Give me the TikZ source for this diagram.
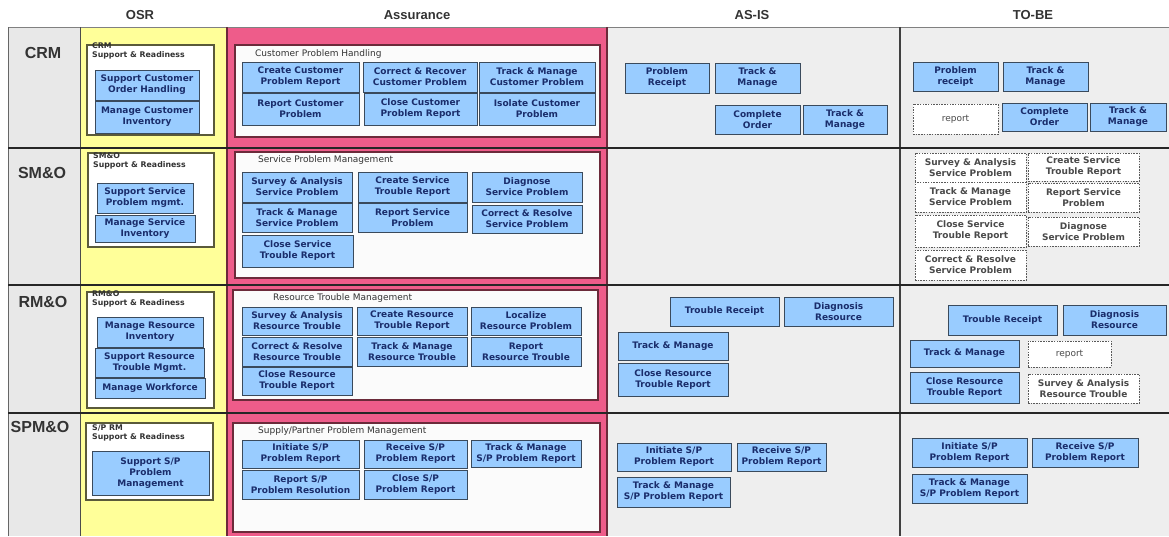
\documentclass[tikz,border=0pt]{standalone}
\usepackage{fontspec}
\setmainfont{Liberation Sans}
\newfontfamily\boxfont{DejaVu Sans}

\definecolor{bfill}{HTML}{99CCFF}
\definecolor{bborder}{HTML}{3A4A5C}
\definecolor{btext}{HTML}{1A2D6B}
\definecolor{dtext}{HTML}{4A4A4A}
\definecolor{osrline}{HTML}{5A5A3A}
\definecolor{assline}{HTML}{6B2A3A}
\definecolor{pinkcol}{HTML}{EE5C8A}
\definecolor{yellowcol}{HTML}{FFFF99}
\definecolor{graycol}{HTML}{EEEEEE}
\definecolor{labelcol}{HTML}{E8E8E8}
\definecolor{headtext}{HTML}{333333}

\tikzset{
  bluebox/.style={draw=bborder, fill=bfill, line width=1pt, text=btext,
    font=\boxfont\bfseries\fontsize{9}{11}\selectfont, align=center, inner sep=0pt},
  dashbox/.style={draw=gray!70!black, line width=0.9pt, dash pattern=on 1.5pt off 1.2pt,
    fill=white, text=dtext, font=\boxfont\bfseries\fontsize{9}{11}\selectfont,
    align=center, inner sep=0pt},
  osrpanel/.style={draw=osrline, line width=1.5pt, fill=white, inner sep=0pt},
  asspanel/.style={draw=assline, line width=1.5pt, fill=white!97!gray, inner sep=0pt},
  paneltitle/.style={anchor=west, font=\boxfont\fontsize{9}{10}\selectfont,
    text=headtext, inner sep=0pt},
  osrtitle/.style={anchor=north west, align=left,
    font=\boxfont\bfseries\fontsize{7.8}{9}\selectfont, text=headtext, inner sep=0pt},
  colhead/.style={font=\bfseries\fontsize{13}{15}\selectfont, text=headtext},
  rowhead/.style={font=\bfseries\fontsize{16}{18}\selectfont, text=headtext},
}

% \cell[style]{name}{x1}{y1}{x2}{y2}{text}: a box given by its corners
\newcommand\cell[7][bluebox]{%
  \pgfmathsetmacro\cellw{#5-#3}%
  \pgfmathsetmacro\cellh{#6-#4}%
  \node[#1, minimum width=\cellw pt, minimum height=\cellh pt] (#2)
    at ({(#3+#5)/2},{(#4+#6)/2}) {#7};}

\begin{document}
\begin{tikzpicture}[x=1pt, y=-1pt]
\useasboundingbox (0,0) rectangle (1169,536);
\fill[white] (0,0) rectangle (1169,536);

% column backgrounds
\fill[labelcol] (8,27) rectangle (80,536);
\fill[yellowcol] (80,27) rectangle (227,536);
\fill[pinkcol] (227,27) rectangle (608,536);
\fill[graycol] (608,27) rectangle (900,536);
\fill[graycol] (900,27) rectangle (1169,536);

% grid lines
\draw[gray, line width=1pt] (8,27) -- (1169,27);
\draw[gray!80!black, line width=0.8pt] (8,27) -- (8,536);
\draw[black!70, line width=1pt] (80,27) -- (80,536);
\draw[assline, line width=1.2pt] (227,27) -- (227,536);
\draw[assline, line width=1.2pt] (607,27) -- (607,536);
\draw[black!75, line width=1.5pt] (900,27) -- (900,536);
\foreach \yy in {148,285,413}
  \draw[black!85, line width=2pt] (8,\yy) -- (1169,\yy);

% column headings
\node[colhead] (hosr) at (140,15) {OSR};
\node[colhead] (hass) at (417,15) {Assurance};
\node[colhead] (hasis) at (752,15) {AS-IS};
\node[colhead] (htobe) at (1033,15) {TO-BE};

% row headings
\node[rowhead] (rcrm) at (43,53) {CRM};
\node[rowhead] (rsmo) at (42,173) {SM\&O};
\node[rowhead] (rrmo) at (43,302) {RM\&O};
\node[rowhead] (rspmo) at (40,427) {SPM\&O};

% ---------------- CRM ----------------
\cell[osrpanel]{pcrmosr}{87}{45}{214}{135}{}
\node[osrtitle] (tcrmosr) at (92,43) {CRM\\Support \& Readiness};
\cell{crmo1}{95}{70}{199}{100}{Support Customer\\Order Handling}
\cell{crmo2}{95}{101}{199}{133}{Manage Customer\\Inventory}

\cell[asspanel]{pcrmass}{235}{45}{600}{137}{}
\node[paneltitle] (tcrmass) at (255,54) {Customer Problem Handling};
\cell{crma1}{242}{62}{359}{92}{Create Customer\\Problem Report}
\cell{crma2}{363}{62}{477}{92}{Correct \& Recover\\Customer Problem}
\cell{crma3}{479}{62}{595}{92}{Track \& Manage\\Customer Problem}
\cell{crma4}{242}{93}{359}{125}{Report Customer\\Problem}
\cell{crma5}{364}{93}{477}{125}{Close Customer\\Problem Report}
\cell{crma6}{479}{93}{595}{125}{Isolate Customer\\Problem}

\cell{crmi1}{625}{63}{709}{93}{Problem\\Receipt}
\cell{crmi2}{715}{63}{800}{93}{Track \&\\Manage}
\cell{crmi3}{715}{105}{800}{134}{Complete\\Order}
\cell{crmi4}{803}{105}{887}{134}{Track \&\\Manage}

\cell{crmt1}{913}{62}{998}{91}{Problem\\receipt}
\cell{crmt2}{1003}{62}{1088}{91}{Track \&\\Manage}
\cell[dashbox]{crmt3}{913}{104}{998}{134}{\mdseries report}
\cell{crmt4}{1002}{103}{1087}{131}{Complete\\Order}
\cell{crmt5}{1090}{103}{1166}{131}{Track \&\\Manage}

% ---------------- SM&O ----------------
\cell[osrpanel]{psmoosr}{88}{153}{214}{247}{}
\node[osrtitle] (tsmoosr) at (93,153) {SM\&O\\Support \& Readiness};
\cell{smoo1}{97}{183}{193}{213}{Support Service\\Problem mgmt.}
\cell{smoo2}{95}{215}{195}{242}{Manage Service\\Inventory}

\cell[asspanel]{psmoass}{235}{152}{600}{278}{}
\node[paneltitle] (tsmoass) at (258,160) {Service Problem Management};
\cell{smoa1}{242}{172}{352}{202}{Survey \& Analysis\\Service Problem}
\cell{smoa2}{358}{172}{467}{202}{Create Service\\Trouble Report}
\cell{smoa3}{472}{172}{582}{202}{Diagnose\\Service Problem}
\cell{smoa4}{242}{203}{352}{232}{Track \& Manage\\Service Problem}
\cell{smoa5}{358}{203}{467}{232}{Report Service\\Problem}
\cell{smoa6}{472}{205}{582}{233}{Correct \& Resolve\\Service Problem}
\cell{smoa7}{242}{235}{353}{267}{Close Service\\Trouble Report}

\cell[dashbox]{smot1}{915}{153}{1026}{182}{Survey \& Analysis\\Service Problem}
\cell[dashbox]{smot2}{915}{182}{1026}{212}{Track \& Manage\\Service Problem}
\cell[dashbox]{smot3}{915}{215}{1026}{247}{Close Service\\Trouble Report}
\cell[dashbox]{smot4}{915}{250}{1026}{280}{Correct \& Resolve\\Service Problem}
\cell[dashbox]{smot5}{1028}{153}{1139}{181}{Create Service\\Trouble Report}
\cell[dashbox]{smot6}{1028}{183}{1139}{212}{Report Service\\Problem}
\cell[dashbox]{smot7}{1028}{217}{1139}{246}{Diagnose\\Service Problem}

% ---------------- RM&O ----------------
\cell[osrpanel]{prmoosr}{87}{292}{214}{408}{}
\node[osrtitle] (trmoosr) at (92,291) {RM\&O\\Support \& Readiness};
\cell{rmoo1}{97}{317}{203}{347}{Manage Resource\\Inventory}
\cell{rmoo2}{95}{348}{204}{377}{Support Resource\\Trouble Mgmt.}
\cell{rmoo3}{95}{378}{205}{398}{Manage Workforce}

\cell[asspanel]{prmoass}{233}{290}{598}{400}{}
\node[paneltitle] (trmoass) at (273,298) {Resource Trouble Management};
\cell{rmoa1}{242}{307}{352}{335}{Survey \& Analysis\\Resource Trouble}
\cell{rmoa2}{357}{307}{467}{335}{Create Resource\\Trouble Report}
\cell{rmoa3}{471}{307}{581}{335}{Localize\\Resource Problem}
\cell{rmoa4}{242}{337}{352}{366}{Correct \& Resolve\\Resource Trouble}
\cell{rmoa5}{357}{337}{467}{366}{Track \& Manage\\Resource Trouble}
\cell{rmoa6}{471}{337}{581}{366}{Report\\Resource Trouble}
\cell{rmoa7}{242}{367}{352}{395}{Close Resource\\Trouble Report}

\cell{rmoi1}{670}{297}{779}{326}{Trouble Receipt}
\cell{rmoi2}{784}{297}{893}{326}{Diagnosis\\Resource}
\cell{rmoi3}{618}{332}{728}{360}{Track \& Manage}
\cell{rmoi4}{618}{363}{728}{396}{Close Resource\\Trouble Report}

\cell{rmot1}{948}{305}{1057}{335}{Trouble Receipt}
\cell{rmot2}{1063}{305}{1166}{335}{Diagnosis\\Resource}
\cell{rmot3}{910}{340}{1019}{367}{Track \& Manage}
\cell[dashbox]{rmot4}{1028}{341}{1111}{367}{\mdseries report}
\cell{rmot5}{910}{372}{1019}{403}{Close Resource\\Trouble Report}
\cell[dashbox]{rmot6}{1028}{374}{1139}{403}{Survey \& Analysis\\Resource Trouble}

% ---------------- SPM&O ----------------
\cell[osrpanel]{pspmosr}{86}{423}{213}{500}{}
\node[osrtitle] (tspmosr) at (92,425) {S/P RM\\Support \& Readiness};
\cell{spmo1}{92}{451}{209}{495}{Support S/P\\Problem\\Management}

\cell[asspanel]{pspmass}{233}{423}{600}{532}{}
\node[paneltitle] (tspmass) at (258,431) {Supply/Partner Problem Management};
\cell{spma1}{242}{440}{359}{468}{Initiate S/P\\Problem Report}
\cell{spma2}{364}{440}{467}{468}{Receive S/P\\Problem Report}
\cell{spma3}{471}{440}{581}{467}{Track \& Manage\\S/P Problem Report}
\cell{spma4}{242}{470}{359}{499}{Report S/P\\Problem Resolution}
\cell{spma5}{364}{470}{467}{499}{Close S/P\\Problem Report}

\cell{spmi1}{617}{443}{731}{471}{Initiate S/P\\Problem Report}
\cell{spmi2}{737}{443}{826}{471}{Receive S/P\\Problem Report}
\cell{spmi3}{617}{477}{730}{507}{Track \& Manage\\S/P Problem Report}

\cell{spmt1}{912}{438}{1027}{467}{Initiate S/P\\Problem Report}
\cell{spmt2}{1032}{438}{1138}{467}{Receive S/P\\Problem Report}
\cell{spmt3}{912}{474}{1027}{503}{Track \& Manage\\S/P Problem Report}
\end{tikzpicture}
\end{document}
